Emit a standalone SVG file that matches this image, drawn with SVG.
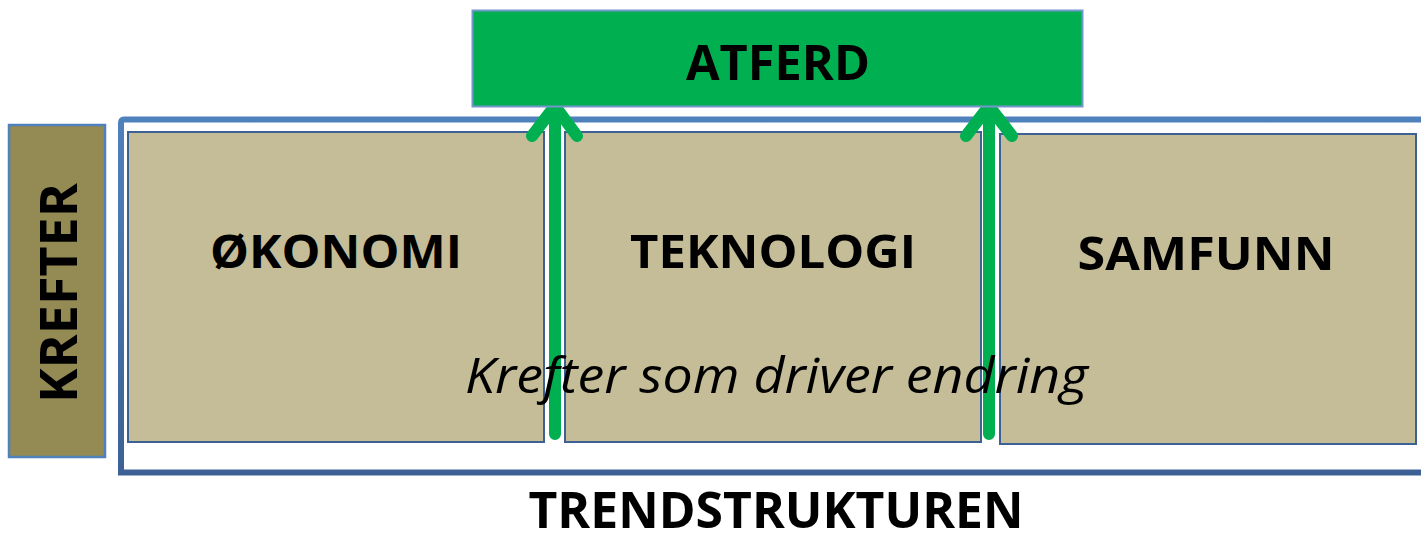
<svg xmlns="http://www.w3.org/2000/svg" width="1421" height="533" viewBox="0 0 1421 533">
<defs>
<linearGradient id="frameGrad" gradientUnits="userSpaceOnUse" x1="0" y1="118" x2="0" y2="474">
<stop offset="0" stop-color="#4f81bd"/>
<stop offset="1" stop-color="#3d6194"/>
</linearGradient>
</defs>
<style>
.lbl{font-family:"Open Sans","Liberation Sans",sans-serif;font-weight:bold;fill:#000;text-anchor:middle}
.it{font-family:"Open Sans","Liberation Sans",sans-serif;font-style:italic;fill:#000}
.force{fill:#c4bd97;stroke:#3d6194;stroke-width:2}
.arrow{fill:none;stroke:#00b050;stroke-width:12;stroke-linecap:round;stroke-linejoin:round}
</style>
<rect width="1421" height="533" fill="#fff"/>
<g id="trendstrukturen">
<path d="M1425,119.5 H124 Q121,119.5 121,123 V472.5 H1425" fill="none" stroke="url(#frameGrad)" stroke-width="6"/>
<text class="lbl" x="776" y="528" font-size="51" textLength="495" lengthAdjust="spacingAndGlyphs">TRENDSTRUKTUREN</text>
</g>
<g id="krefter">
<rect x="9" y="125" width="96" height="332" fill="#948a54" stroke="#4f81bd" stroke-width="2.5"/>
<text class="lbl" transform="translate(77,293) rotate(-90)" x="0" y="0" font-size="52" textLength="220" lengthAdjust="spacingAndGlyphs">KREFTER</text>
</g>
<g id="okonomi">
<rect class="force" x="128" y="132" width="416" height="310"/>
<text class="lbl" x="336" y="268" font-size="47" textLength="252" lengthAdjust="spacingAndGlyphs">ØKONOMI</text>
</g>
<g id="teknologi">
<rect class="force" x="565" y="132" width="416" height="310"/>
<text class="lbl" x="773" y="268" font-size="47" textLength="286" lengthAdjust="spacingAndGlyphs">TEKNOLOGI</text>
</g>
<g id="samfunn">
<rect class="force" x="1000" y="134" width="416" height="310"/>
<text class="lbl" x="1206" y="270" font-size="47" textLength="257" lengthAdjust="spacingAndGlyphs">SAMFUNN</text>
</g>
<g id="connectors">
<path class="arrow" d="M555,434 V110 M532,136 L555,106 L577,136"/>
<path class="arrow" d="M989,434 V110 M966,136 L989,106 L1012,136"/>
</g>
<g id="atferd">
<rect x="472.5" y="10.5" width="610" height="96" fill="#00b050" stroke="#7396cc" stroke-width="2"/>
<text class="lbl" x="778" y="80" font-size="49" textLength="184" lengthAdjust="spacingAndGlyphs">ATFERD</text>
</g>
<g id="caption">
<text class="it" x="465" y="393" font-size="50" textLength="623" lengthAdjust="spacingAndGlyphs">Krefter som driver endring</text>
</g>
</svg>
